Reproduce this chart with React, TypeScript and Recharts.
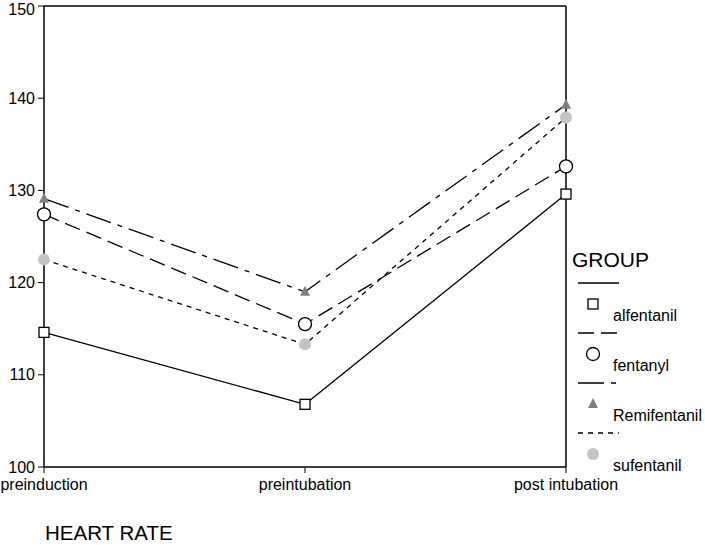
import React from 'react';
import { LineChart, Line, XAxis, YAxis, ReferenceLine } from 'recharts';

const stages = ['preinduction', 'preintubation', 'post intubation'];
const alfentanil = [114.6, 106.8, 129.6];
const fentanyl = [127.4, 115.5, 132.6];
const remifentanil = [129.1, 119.0, 139.3];
const sufentanil = [122.5, 113.3, 137.9];
const yTicks = [100, 110, 120, 130, 140, 150];

const data = stages.map((stage, i) => ({
  stage,
  alfentanil: alfentanil[i],
  fentanyl: fentanyl[i],
  remifentanil: remifentanil[i],
  sufentanil: sufentanil[i],
}));

const FONT = '"Liberation Sans", Arial, sans-serif';

type Marker = 'square' | 'circle' | 'triangle' | 'dot';

const drawMarker = (kind: Marker, cx: number, cy: number, key?: string) => {
  if (kind === 'square')
    return <rect key={key} x={cx - 5} y={cy - 5} width={10} height={10} fill="#fff" stroke="#000" strokeWidth={1.3} />;
  if (kind === 'circle')
    return <circle key={key} cx={cx} cy={cy} r={6.5} fill="#fff" stroke="#000" strokeWidth={1.3} />;
  if (kind === 'triangle')
    return <polygon key={key} points={`${cx},${cy - 6} ${cx - 5},${cy + 4} ${cx + 5},${cy + 4}`} fill="#808080" />;
  return <circle key={key} cx={cx} cy={cy} r={6} fill="#c4c4c4" />;
};

const series = [
  { key: 'alfentanil', name: 'alfentanil', dash: undefined, marker: 'square' as Marker },
  { key: 'fentanyl', name: 'fentanyl', dash: '16 7', marker: 'circle' as Marker },
  { key: 'remifentanil', name: 'Remifentanil', dash: '26 7 5 7', marker: 'triangle' as Marker },
  { key: 'sufentanil', name: 'sufentanil', dash: '5 5', marker: 'dot' as Marker },
];

// legend box starts at (560, 240)
const GroupLegend = () => (
  <svg width={145} height={240} style={{ fontFamily: FONT, position: 'absolute', left: 560, top: 240 }}>
    <text x={12} y={27} fontSize={21} fill="#000">GROUP</text>
    {series.map((s, i) => {
      const base = 43 + i * 50;
      return (
        <g key={s.key}>
          <line x1={18} x2={59} y1={base} y2={base} stroke="#000" strokeWidth={1.3} strokeDasharray={s.dash} />
          {drawMarker(s.marker, 33, base + 21)}
          <text x={53} y={base + 38} fontSize={16} fill="#000">{s.name}</text>
        </g>
      );
    })}
  </svg>
);

export default function App() {
  return (
    <div style={{ position: 'absolute', left: 0, top: 0, width: 705, height: 545, background: '#fff', overflow: 'hidden' }}>
      <LineChart width={705} height={545} data={data} margin={{ top: 6, right: 139, left: 4, bottom: 48 }}>
        <XAxis
          dataKey="stage"
          axisLine={{ stroke: '#000', strokeWidth: 1.5 }}
          tickLine={{ stroke: '#000' }}
          tickSize={6}
          tickMargin={6}
          height={30}
          interval={0}
          tick={{ fill: '#000', fontSize: 16, fontFamily: FONT }}
        />
        <YAxis
          domain={[100, 150]}
          ticks={yTicks}
          width={40}
          axisLine={{ stroke: '#000', strokeWidth: 1.5 }}
          tickLine={{ stroke: '#000' }}
          tickSize={6}
          tickMargin={3}
          tick={{ fill: '#000', fontSize: 16, fontFamily: FONT }}
        />
        <ReferenceLine y={150} stroke="#000" strokeWidth={1.5} />
        <ReferenceLine x="post intubation" stroke="#000" strokeWidth={1.5} />
        {series.map((s) => (
          <Line
            key={s.key}
            dataKey={s.key}
            name={s.name}
            type="linear"
            stroke="#000"
            strokeWidth={1.3}
            strokeDasharray={s.dash}
            isAnimationActive={false}
            dot={(p: any) => drawMarker(s.marker, p.cx, p.cy, `${s.key}-${p.index}`)}
            activeDot={false}
          />
        ))}
      </LineChart>
      <GroupLegend />
      <svg width={705} height={545} style={{ position: 'absolute', left: 0, top: 0, pointerEvents: 'none' }}>
        <text x={45} y={540} fontSize={20.5} fontFamily={FONT} fill="#000">HEART RATE</text>
      </svg>
    </div>
  );
}
